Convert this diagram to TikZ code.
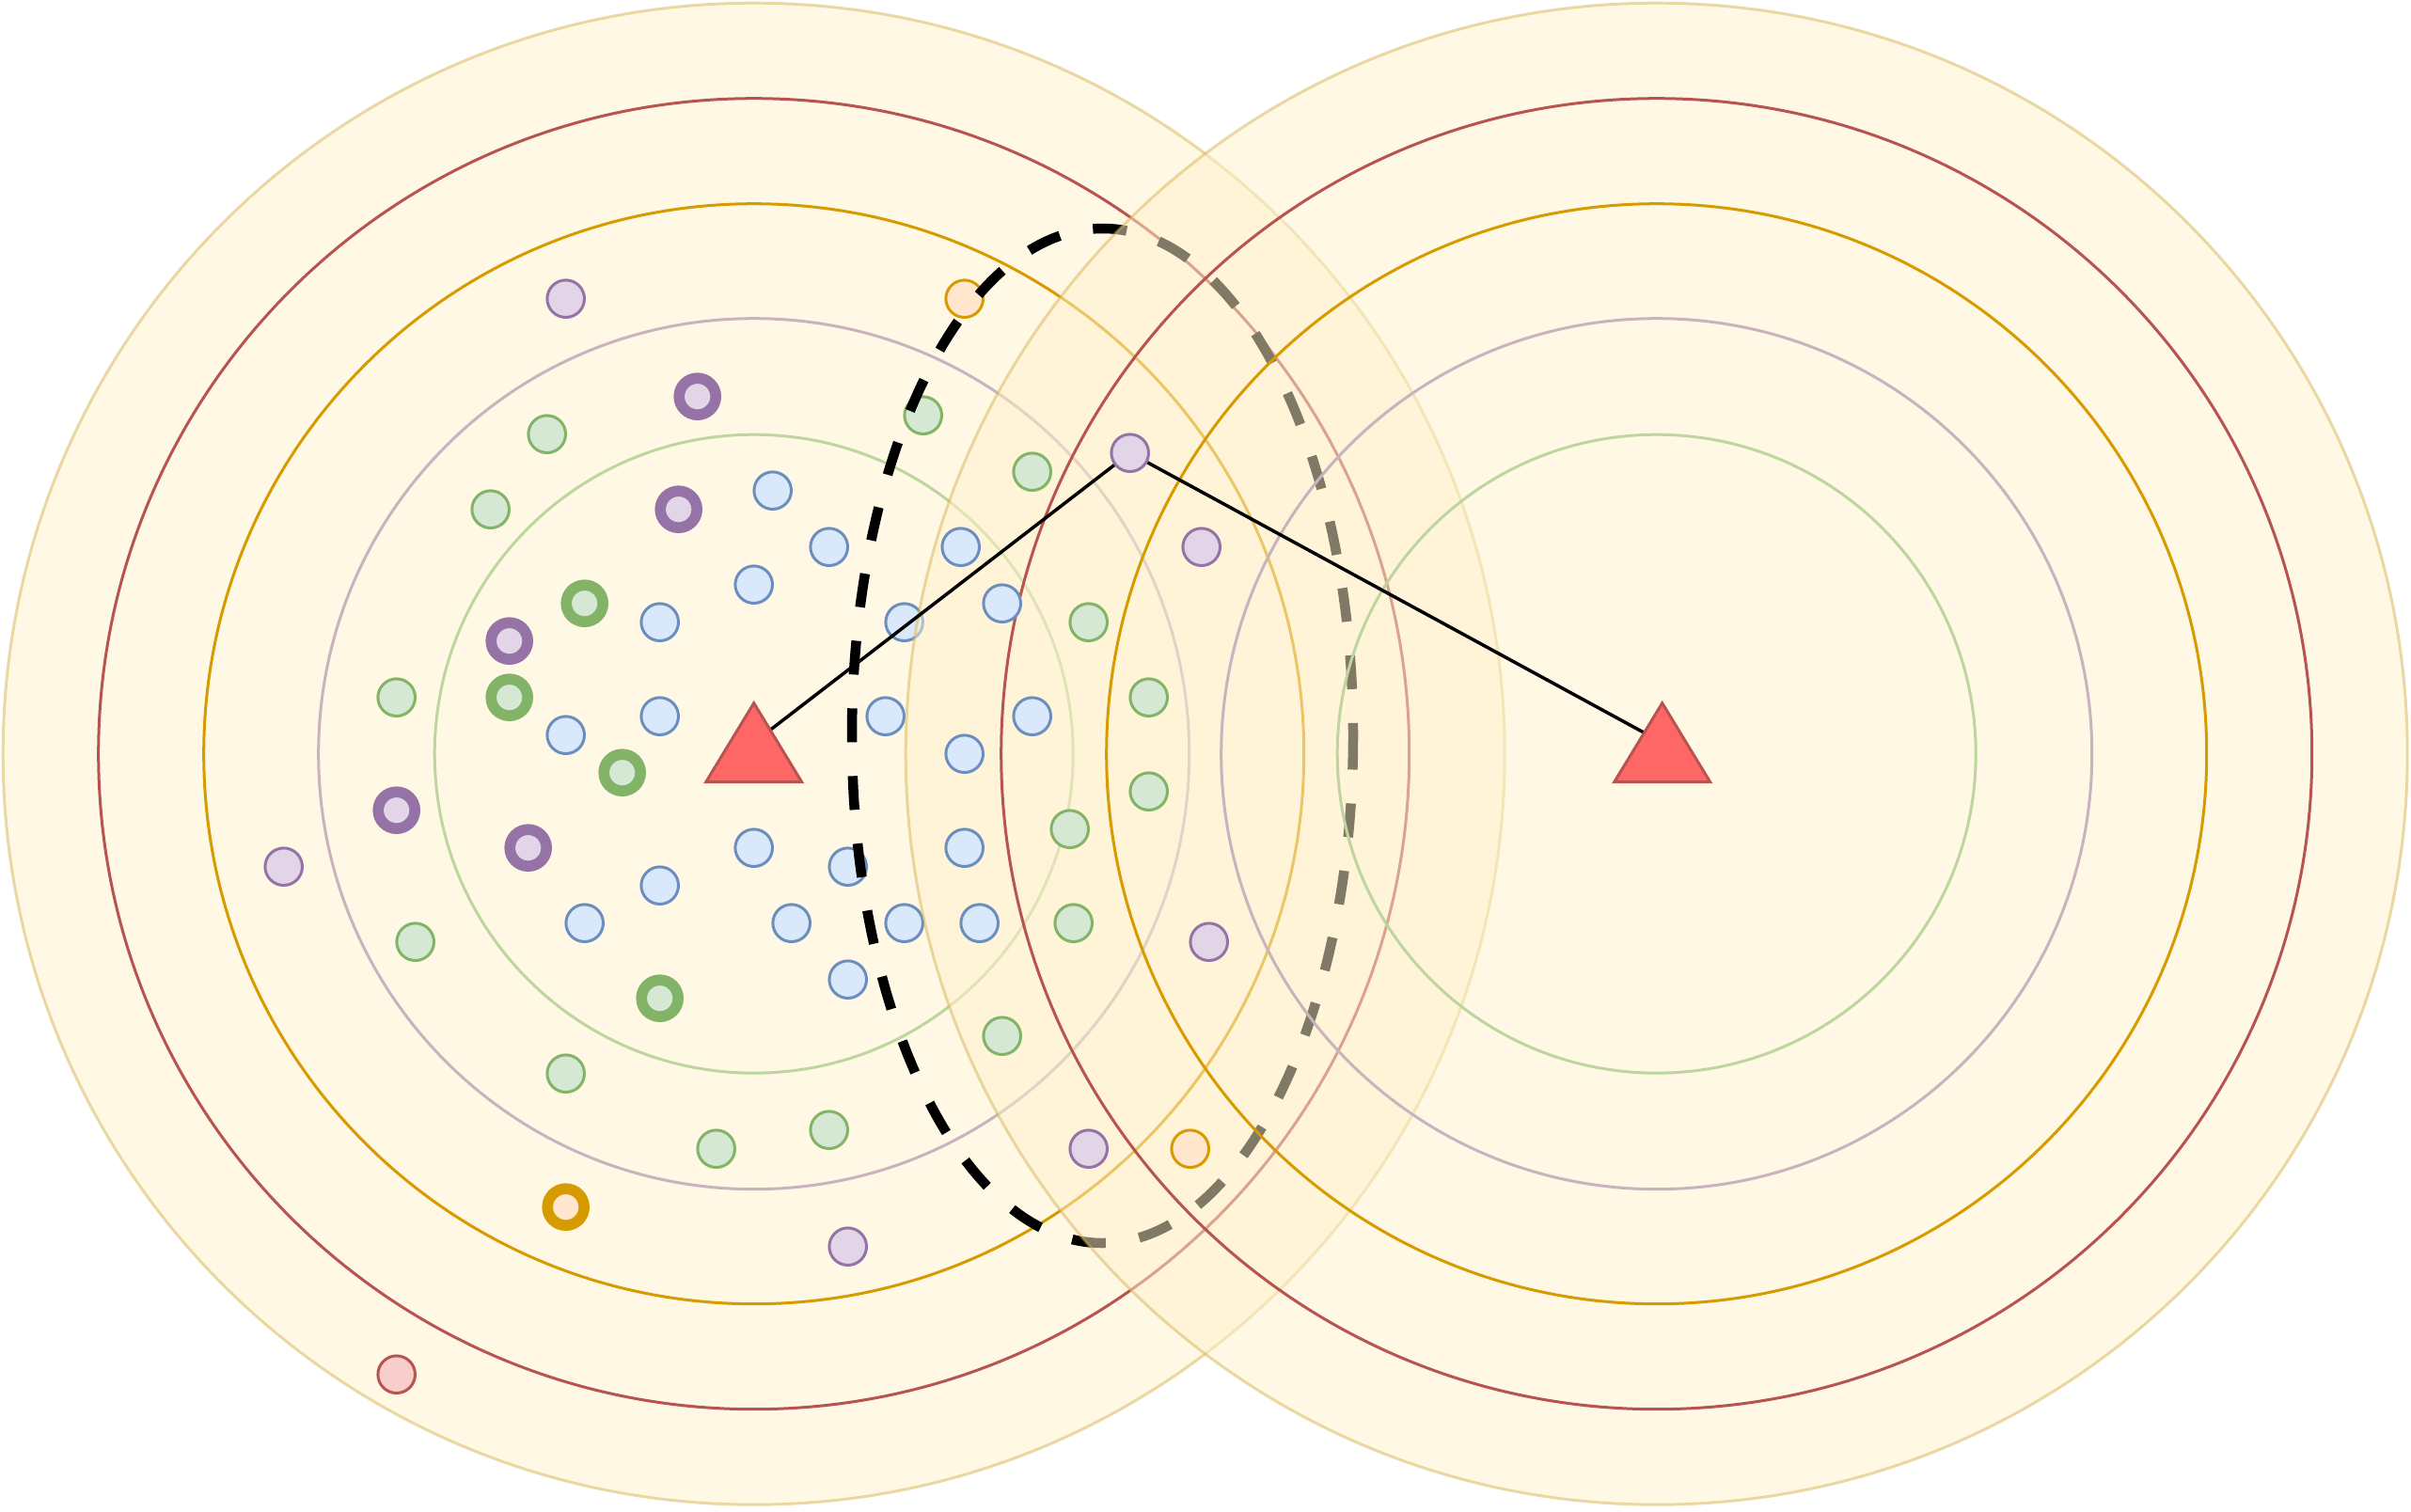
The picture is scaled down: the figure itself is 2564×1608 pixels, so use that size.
\documentclass[tikz,border=0pt]{standalone}
\definecolor{cfill}{HTML}{FFF2CC}
\definecolor{cline}{HTML}{D6B656}
\definecolor{cred}{HTML}{B85450}
\definecolor{corange}{HTML}{D79B00}
\definecolor{cmauve}{HTML}{C8B3BE}
\definecolor{cgreen}{HTML}{BFD5A0}
\definecolor{bF}{HTML}{DAE8FC}\definecolor{bS}{HTML}{6C8EBF}
\definecolor{gF}{HTML}{D5E8D4}\definecolor{gS}{HTML}{82B366}
\definecolor{pF}{HTML}{E1D5E7}\definecolor{pS}{HTML}{9673A6}
\definecolor{oF}{HTML}{FFE6CC}\definecolor{oS}{HTML}{D79B00}
\definecolor{rF}{HTML}{F8CECC}\definecolor{rS}{HTML}{B85450}
\definecolor{triF}{HTML}{FF6666}
\tikzset{
  zone/.style={fill=cfill, draw=cline, fill opacity=0.5, draw opacity=0.5, line width=3pt},
  ring/.style={line width=3pt},
  dot/.style={circle, inner sep=0pt, minimum size=39.6pt, line width=3pt},
  fat/.style={circle, inner sep=0pt, minimum size=39pt, line width=11.6pt},
  bdot/.style={dot, draw=bS, fill=bF},
  gdot/.style={dot, draw=gS, fill=gF},
  pdot/.style={dot, draw=pS, fill=pF},
  odot/.style={dot, draw=oS, fill=oF},
  rdot/.style={dot, draw=rS, fill=rF},
  gfat/.style={fat, draw=gS, fill=gF},
  pfat/.style={fat, draw=pS, fill=pF},
  ofat/.style={fat, draw=oS, fill=oF},
  tri/.style={fill=triF, draw=cred, line width=3pt, line join=miter},
  link/.style={draw=black, line width=3.5pt},
  halo/.style={draw=black, line width=10.5pt, dash pattern=on 36pt off 36pt}
}
\begin{document}
\begin{tikzpicture}[x=1pt,y=-1pt]
\useasboundingbox (-1.7,-1.7) rectangle (2562.3,1606.3);
\fill[white] (-1.7,-1.7) rectangle (2562.3,1606.3);
% ---- left zone ----
\path[zone] (800,800) circle[radius=798.5];
\draw[ring, cred]    (800,800) circle[radius=697];
\draw[ring, corange] (800,800) circle[radius=585];
\draw[ring, cmauve]  (800,800) circle[radius=463];
\draw[ring, cgreen]  (800,800) circle[radius=339.5];
% ---- points inside the left zone only ----
\foreach \x/\y [count=\i] in {600/316,300/920,900/1324}
  \node[pdot] (pl\i) at (\x,\y) {};
\foreach \x/\y [count=\i] in {740/420,720/540,540/680,420/860,560/900}
  \node[pfat] (pk\i) at (\x,\y) {};
\foreach \x/\y [count=\i] in {580/460,520/540,980/440,420/740,440/1000,600/1140,760/1220,880/1200}
  \node[gdot] (gl\i) at (\x,\y) {};
\foreach \x/\y [count=\i] in {620/640,540/740,660/820,700/1060}
  \node[gfat] (gk\i) at (\x,\y) {};
\foreach \x/\y [count=\i] in {820/520,880/580,800/620,700/660,960/660,700/760,600/780,940/760,800/900,900/920,700/940,620/980,840/980,960/980,900/1040}
  \node[bdot] (bl\i) at (\x,\y) {};
\node[odot] (ol1) at (1024,316) {};
\node[ofat] (ok1) at (600,1282) {};
\node[rdot] (rl1) at (420,1460) {};
% ---- dashed region ----
\draw[halo] (1170.8,780.8) ellipse[x radius=266.5, y radius=539.5];
% ---- right zone ----
\path[zone] (1760,800) circle[radius=798.5];
\draw[ring, cred]    (1760,800) circle[radius=697];
\draw[ring, corange] (1760,800) circle[radius=585];
\draw[ring, cmauve]  (1760,800) circle[radius=463];
\draw[ring, cgreen]  (1760,800) circle[radius=339.5];
% ---- points in the overlap ----
\node[pdot] (hub) at (1200,480) {};
\foreach \x/\y [count=\i] in {1276/580,1284/1000,1156/1220}
  \node[pdot] (pr\i) at (\x,\y) {};
\foreach \x/\y [count=\i] in {1096/500,1156/660,1220/740,1220/840,1136/880,1140/980,1064/1100}
  \node[gdot] (gr\i) at (\x,\y) {};
\foreach \x/\y [count=\i] in {1020/580,1064/640,1096/760,1024/800,1024/900,1040/980}
  \node[bdot] (br\i) at (\x,\y) {};
\node[odot] (or1) at (1264,1220) {};
% ---- links and stations ----
\coordinate (tl) at (800,788);
\coordinate (tr) at (1766,788);
\draw[link] (tl) -- (hub);
\draw[link] (hub) -- (tr);
\filldraw[tri] (800,746) -- (851,830) -- (749,830) -- cycle;
\filldraw[tri] (1766,746) -- (1817,830) -- (1715,830) -- cycle;
\end{tikzpicture}
\end{document}
